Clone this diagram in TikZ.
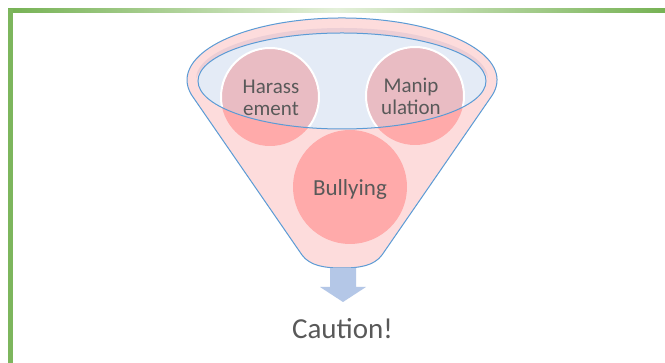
\documentclass[tikz,border=0pt]{standalone}
\usepackage{fontspec}
\setmainfont{Carlito}
\definecolor{frameGreen}{RGB}{118,178,84}
\definecolor{framePale}{RGB}{228,240,218}
\definecolor{funnelPink}{RGB}{253,220,220}
\definecolor{rimMauve}{RGB}{236,206,213}
\definecolor{glassBlue}{RGB}{228,235,246}
\definecolor{edgeBlue}{RGB}{91,155,213}
\definecolor{ballSalmon}{RGB}{255,170,170}
\definecolor{ballMauve}{RGB}{233,188,195}
\definecolor{arrowBlue}{RGB}{180,199,231}
\definecolor{labelGrey}{RGB}{89,89,89}
\tikzset{
  ballfill/.style={fill=ballSalmon, draw=none},
  ballglass/.style={fill=ballMauve, draw=white, line width=2pt},
  balltext/.style={text=labelGrey, align=center, inner sep=0pt},
}
\begin{document}
\begin{tikzpicture}[x=1pt,y=1pt]
\useasboundingbox (0,0) rectangle (665,363);
\fill[white] (0,0) rectangle (665,363);

% frame: green top bar fading in the middle, solid left bar
\shade[left color=frameGreen, right color=frameGreen, middle color=framePale]
  (8,350.5) rectangle (665,354);
\fill[frameGreen!95!white] (8,0) rectangle (13,354);

% funnel body
\coordinate (tl) at (191.6,268);
\coordinate (tr) at (492.4,268);
\path[fill=funnelPink, draw=edgeBlue, line width=1pt]
  (tl) -- (302,108)
  .. controls (310,97) and (325,95) .. (342,95)
  .. controls (359,95) and (374,97) .. (382,108)
  -- (tr)
  arc[start angle=-14, end angle=194, x radius=155pt, y radius=62pt] -- cycle;

% rim shadow inside the opening
\fill[rimMauve] (342,284) ellipse[x radius=146pt, y radius=51pt];
\fill[funnelPink] (342,279) ellipse[x radius=147pt, y radius=48pt];

% opening of the funnel
\fill[glassBlue] (342,282) ellipse[x radius=144pt, y radius=48pt];

% balls
\fill[ballfill] (270,266) circle[radius=49pt];
\fill[ballfill] (415,267) circle[radius=49pt];
\fill[ballfill] (350,176) circle[radius=57pt];
\begin{scope}
  \clip (342,282) ellipse[x radius=144pt, y radius=48pt];
  \draw[ballglass] (270,266) circle[radius=49pt];
  \draw[ballglass] (415,267) circle[radius=49pt];
\end{scope}
\draw[edgeBlue, line width=1pt] (342,282) ellipse[x radius=144pt, y radius=48pt];

\node[balltext, font=\fontsize{21}{22}\selectfont] (harass) at (271,265) {Harass\\ement};
\node[balltext, font=\fontsize{21}{22}\selectfont] (manip) at (411,267) {Manip\\ulation};
\node[balltext, font=\fontsize{23}{26}\selectfont, anchor=base] (bully) at (350,167) {Bullying};

% outflow arrow
\fill[arrowBlue] (330,95) -- (356,95) -- (356,76) -- (366,76) -- (343,61)
  -- (320,76) -- (330,76) -- cycle;

\node[text=labelGrey, font=\fontsize{29}{34}\selectfont, anchor=base, inner sep=0pt] (caution) at (342.5,24) {Caution!};
\end{tikzpicture}
\end{document}
